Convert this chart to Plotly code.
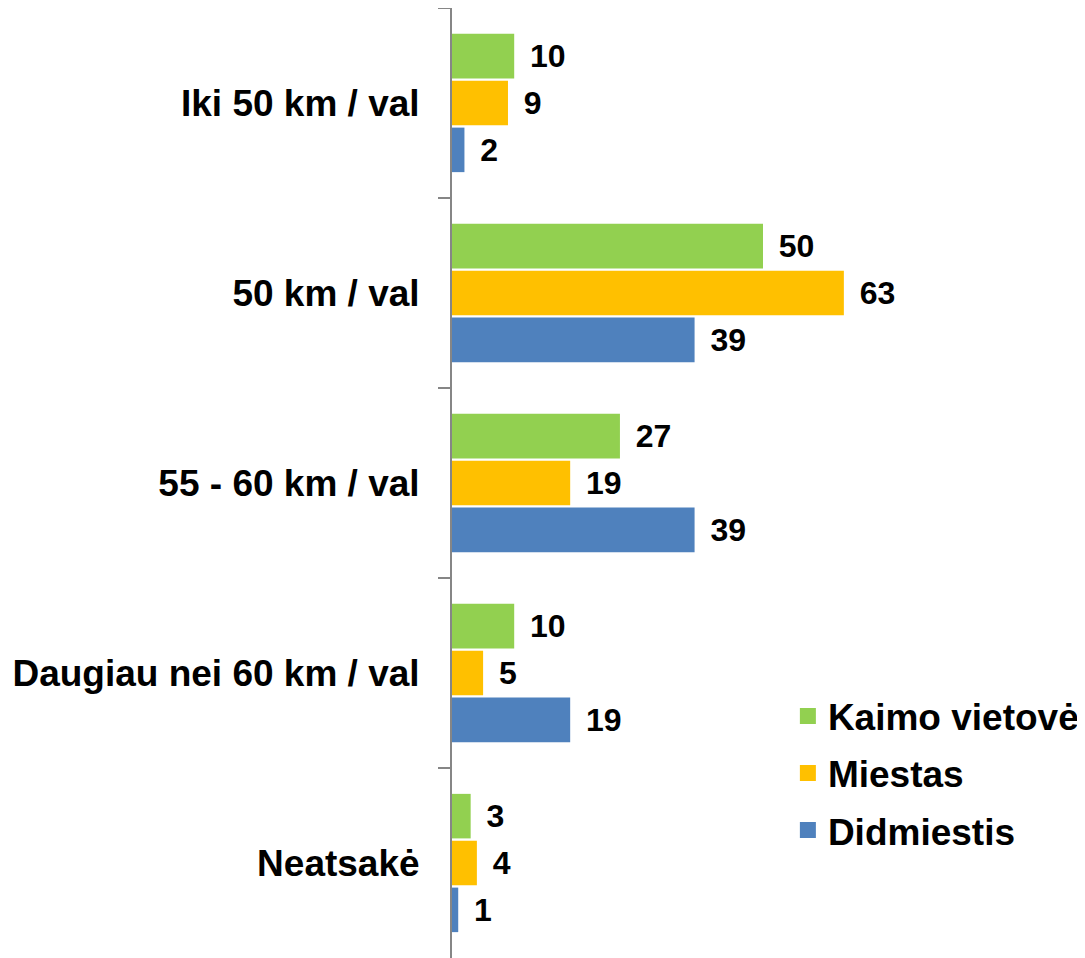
import plotly.graph_objects as go

categories = ["Iki 50 km / val", "50 km / val", "55 - 60 km / val",
              "Daugiau nei 60 km / val", "Neatsakė"]
series_names = ["Kaimo vietovė", "Miestas", "Didmiestis"]
kaimo = [10, 50, 27, 10, 3]
miestas = [9, 63, 19, 5, 4]
didmiestis = [2, 39, 39, 19, 1]
colors = ["#92D050", "#FFC000", "#4F81BD"]

FONT = "Liberation Sans, Arial, sans-serif"
SP = "\u2009\u2009"

fig = go.Figure()
for name, vals, col in zip(series_names, [kaimo, miestas, didmiestis], colors):
    fig.add_trace(go.Bar(
        y=categories, x=vals, orientation="h", name=name,
        marker=dict(color=col, line=dict(width=0)),
        text=[SP + str(v) for v in vals], textposition="outside",
        textfont=dict(family=FONT, size=32, color="black", weight="bold"),
        constraintext="none", cliponaxis=False, showlegend=False,
    ))
for name, col in zip(series_names, colors):
    fig.add_trace(go.Scatter(
        x=[None], y=[None], mode="markers", name=name, legendgroup=name,
        marker=dict(color=col, symbol="square", size=18),
    ))

# The page body has an 8px margin, so the figure is sized to fit the window.
fig.update_layout(
    width=1077, height=950,
    margin=dict(l=444, r=11, t=0, b=0, autoexpand=False),
    paper_bgcolor="white", plot_bgcolor="white",
    barmode="group", bargap=0.26, bargroupgap=0.05,
    font=dict(family=FONT, color="black"),
    legend=dict(
        x=0.540, y=0.287, xanchor="left", yanchor="top",
        font=dict(family=FONT, size=37, color="black", weight="bold"),
        itemsizing="trace", tracegroupgap=6, bgcolor="rgba(0,0,0,0)",
    ),
    xaxis=dict(range=[0, 100], visible=False, showgrid=False, zeroline=False,
               automargin=False),
    yaxis=dict(
        autorange="reversed", type="category", automargin=False,
        showline=True, linecolor="#868686", linewidth=2,
        ticks="outside", ticklen=12, tickwidth=2, tickcolor="#868686",
        tickson="boundaries", showgrid=False, zeroline=False,
        tickfont=dict(family=FONT, size=37, color="black", weight="bold"),
        ticklabelstandoff=23,
    ),
)

fig.write_html("out.html")
